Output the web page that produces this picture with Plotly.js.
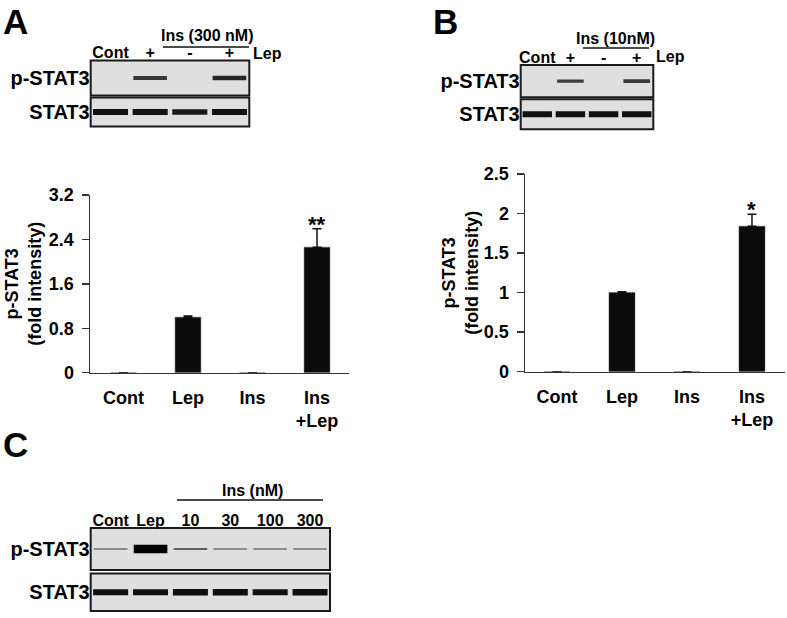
<!DOCTYPE html>
<html>
<head>
<meta charset="utf-8">
<script src="https://cdn.plot.ly/plotly-3.0.1.min.js"></script>
<style>
  html, body { margin: 0; padding: 0; background: #fff; }
  #chart { width: 787px; height: 618px; }
</style>
</head>
<body>
<div id="chart"></div>
<script>
// Quantified p-STAT3 (fold intensity), panels A and B
const groups = ['Cont', 'Lep', 'Ins', 'Ins<br>+Lep'];
const foldA = [0, 1.0, 0, 2.26];
const errA = [0, 0.02, 0, 0.33];
const starsA = ['', '', '', '**'];
const foldB = [0, 1.0, 0, 1.84];
const errB = [0, 0.01, 0, 0.15];
const starsB = ['', '', '', '*'];

// Blot lanes and rough band intensities (0 = no band, 1 = saturated)
const lanesAB = ['Cont', '+', '-', '+'];
const lanesC = ['Cont', 'Lep', '10', '30', '100', '300'];
const pstatA = [0, 0.58, 0, 0.66];
const statA = [0.8, 0.78, 0.76, 0.8];
const pstatB = [0, 0.54, 0, 0.56];
const statB = [0.8, 0.8, 0.8, 0.8];
const pstatC = [0.34, 1.0, 0.4, 0.32, 0.32, 0.32];
const statC = [0.8, 0.8, 0.82, 0.82, 0.8, 0.82];

const W = 787, H = 618;
const FONT = 'Arial, "Liberation Sans", sans-serif';
const px = x => x / W;
const py = y => 1 - y / H;
const f = (size) => ({ family: FONT, size: size, color: '#000', weight: 'bold' });
const AXIS = '#333';

function barTrace(vals, errs, xa, ya) {
  return {
    type: 'bar', x: groups, y: vals, xaxis: xa, yaxis: ya, width: 0.4,
    marker: { color: '#0b0b0b', line: { color: '#555', width: 0.5 } },
    error_y: { type: 'data', array: errs, symmetric: false, arrayminus: errs.map(() => 0),
      color: '#111', thickness: 1.5, width: 4.5 },
    hoverinfo: 'skip'
  };
}

// a band is a short thick horizontal stroke; darker and thicker when stronger
function bandTrace(vals, xa, ya, size) {
  return {
    type: 'scatter', mode: 'markers', xaxis: xa, yaxis: ya,
    x: vals.map((v, i) => i), y: vals.map(() => 0), hoverinfo: 'skip',
    marker: {
      symbol: 'line-ew', size: size, color: 'rgba(0,0,0,0)',
      line: {
        width: vals.map(v => v > 0 ? 8.5 * Math.pow(v, 1.5) : 0),
        color: vals.map(v => {
          const g = Math.round(215 * Math.pow(1 - v, 1.6));
          return `rgb(${g},${g},${g})`;
        })
      }
    }
  };
}

function blotBox(xa, ya) {
  return { type: 'rect', xref: xa + ' domain', yref: ya + ' domain', x0: 0, x1: 1, y0: 0, y1: 1,
    fillcolor: '#dfdfdf', line: { color: '#1a1a1a', width: 2 }, layer: 'below' };
}

function laneAxis(x0, x1, yId, n, labels) {
  return {
    domain: [px(x0), px(x1)], anchor: yId, range: [-0.5, n - 0.5], side: 'top',
    tickvals: labels ? labels.map((l, i) => i) : [], ticktext: labels || [],
    showticklabels: !!labels, ticks: '', showline: false, showgrid: false, zeroline: false,
    ticklabelstandoff: -2, fixedrange: true, tickfont: f(16)
  };
}

function rowAxis(y0, y1, xId, label) {
  return {
    domain: [py(y1), py(y0)], anchor: xId, range: [-1, 1], tickvals: [0], ticktext: [label],
    ticks: '', showline: false, showgrid: false, zeroline: false, fixedrange: true, tickfont: f(20)
  };
}

function valueAxis(y0, y1, xId, top, dtick, standoff) {
  return {
    domain: [py(y1), py(y0)], anchor: xId, range: [0, top], tick0: 0, dtick: dtick,
    ticks: 'outside', ticklen: 7, tickwidth: 1.5, tickcolor: AXIS, ticklabelstandoff: 4,
    showline: true, linecolor: AXIS, linewidth: 1.5, showgrid: false, zeroline: false,
    tickfont: f(18), fixedrange: true,
    title: { text: 'p-STAT3<br>(fold intensity)', font: f(18), standoff: standoff }
  };
}

function groupAxis(x0, x1, yId, range) {
  return {
    domain: [px(x0), px(x1)], anchor: yId, type: 'category', range: range,
    showline: true, linecolor: AXIS, linewidth: 1.5, ticks: '', showgrid: false, zeroline: false,
    ticklabelstandoff: 8, tickfont: f(18), fixedrange: true
  };
}

const data = [
  barTrace(foldA, errA, 'x', 'y'),
  barTrace(foldB, errB, 'x2', 'y2'),
  bandTrace(pstatA, 'x3', 'y3', 24),
  bandTrace(statA, 'x4', 'y4', 25),
  bandTrace(pstatB, 'x5', 'y5', 19),
  bandTrace(statB, 'x6', 'y6', 21),
  bandTrace(pstatC, 'x7', 'y7', 24),
  bandTrace(statC, 'x8', 'y8', 25)
];

const annotations = [];
function stars(marks, vals, errs, xa, ya) {
  marks.forEach((s, i) => {
    if (!s) return;
    annotations.push({ xref: xa, yref: ya, x: i, y: vals[i] + errs[i], text: s, showarrow: false,
      yanchor: 'bottom', yshift: -10, font: f(22) });
  });
}
stars(starsA, foldA, errA, 'x', 'y');
stars(starsB, foldB, errB, 'x2', 'y2');

const note = (text, x, y, size, xanchor, yanchor) => annotations.push({
  xref: 'paper', yref: 'paper', x: px(x), y: py(y), text: text, showarrow: false,
  xanchor: xanchor || 'center', yanchor: yanchor || 'middle', font: f(size)
});
note('A', 1, 0, 35, 'left', 'top');
note('B', 431, 0, 35, 'left', 'top');
note('C', 1, 444, 35, 'left');
note('Ins (300 nM)', 207, 35, 16);
note('Lep', 267, 53, 16);
note('Ins (10nM)', 615, 38, 16);
note('Lep', 670, 57, 16);
note('Ins (nM)', 252, 490, 16);

const underline = (x0, x1, y) => ({ type: 'line', xref: 'paper', yref: 'paper',
  x0: px(x0), x1: px(x1), y0: py(y), y1: py(y), line: { color: '#111', width: 1.5 } });

const layout = {
  width: W, height: H, margin: { l: 0, r: 0, t: 0, b: 0 },
  paper_bgcolor: '#fff', plot_bgcolor: 'rgba(0,0,0,0)', showlegend: false,
  font: f(16),
  xaxis: groupAxis(90, 349, 'y', [-0.519, 3.496]),
  yaxis: valueAxis(195, 372.7, 'x', 3.2, 0.8, 2),
  xaxis2: groupAxis(525, 785, 'y2', [-0.492, 3.508]),
  yaxis2: valueAxis(174, 371.7, 'x2', 2.5, 0.5, 0),
  xaxis3: laneAxis(90.7, 249.3, 'y3', 4, lanesAB),
  yaxis3: rowAxis(60.5, 95.5, 'x3', 'p-STAT3'),
  xaxis4: laneAxis(90.7, 249.3, 'y4', 4, null),
  yaxis4: rowAxis(97.5, 126.5, 'x4', 'STAT3'),
  xaxis5: laneAxis(520.7, 653.3, 'y5', 4, lanesAB),
  yaxis5: rowAxis(65, 97.3, 'x5', 'p-STAT3'),
  xaxis6: laneAxis(520.7, 653.3, 'y6', 4, null),
  yaxis6: rowAxis(99.3, 129.3, 'x6', 'STAT3'),
  xaxis7: laneAxis(90.7, 330, 'y7', 6, lanesC),
  yaxis7: rowAxis(528, 570, 'x7', 'p-STAT3'),
  xaxis8: laneAxis(90.7, 330, 'y8', 6, null),
  yaxis8: rowAxis(573.5, 611, 'x8', 'STAT3'),
  shapes: [
    blotBox('x3', 'y3'), blotBox('x4', 'y4'), blotBox('x5', 'y5'),
    blotBox('x6', 'y6'), blotBox('x7', 'y7'), blotBox('x8', 'y8'),
    underline(163, 249, 47), underline(583, 649, 48), underline(177, 323, 500)
  ],
  annotations: annotations
};

Plotly.newPlot('chart', data, layout, { displayModeBar: false, staticPlot: true });
</script>
</body>
</html>
